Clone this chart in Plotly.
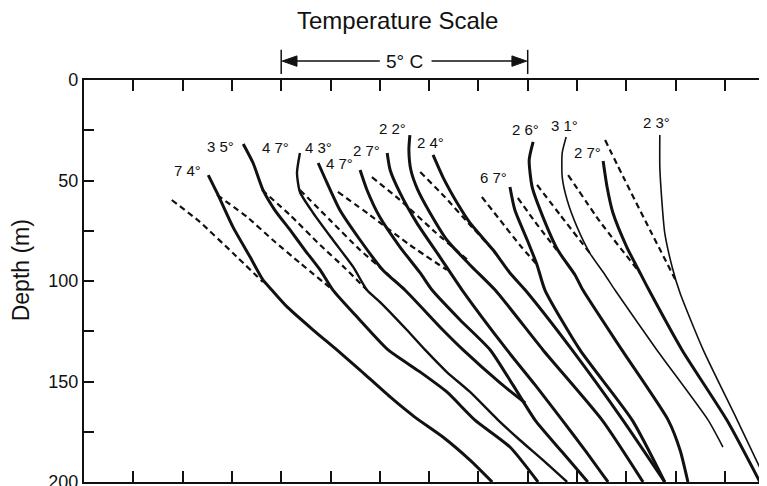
import plotly.graph_objects as go

# ---- data: temperature (offset scale, 1 unit = 1 deg C) vs depth (m) ----
profile_names = ["74", "35", "47a", "43", "47b", "27a", "22", "24", "67", "26", "31", "27b", "23"]

t_74 = [2.52, 2.70, 3.02, 3.37, 3.63, 3.81, 4.12, 4.65, 5.13, 5.60, 6.21, 6.71, 7.28, 7.83, 8.28]
d_74 = [47.3, 56.2, 73.1, 88.1, 99.5, 104.5, 112.9, 124.4, 134.3, 144.3, 157.7, 167.7, 177.6, 189.1, 200]

t_35 = [3.23, 3.43, 3.63, 3.87, 4.18, 4.48, 4.79, 5.05, 5.54, 6.17, 6.82, 7.36, 7.93, 8.64, 9.21]
d_35 = [31.8, 41.3, 54.7, 64.7, 74.6, 84.6, 94.5, 104.5, 117.9, 134.3, 145.3, 155.2, 169.2, 182.6, 200]

t_47a = [4.38, 4.32, 4.38, 4.65, 5.05, 5.46, 5.74, 6.00, 6.55, 6.92, 7.36, 7.83, 8.40, 8.84, 9.35, 9.80]
d_47a = [36.3, 46.3, 55.7, 66.2, 79.6, 93.0, 104.5, 110.4, 124.4, 134.3, 145.3, 155.2, 169.2, 179.1, 190.0, 200]

t_43 = [4.75, 4.93, 5.19, 5.60, 6.06, 6.51, 7.28, 7.69, 8.44, 8.95]
d_43 = [41.3, 51.2, 64.7, 79.6, 94.5, 104.5, 124.4, 134.3, 150.7, 160.7]

t_47b = [5.60, 5.74, 6.00, 6.41, 6.82, 7.06, 7.63, 8.24, 8.70, 9.15, 9.70, 10.22]
d_47b = [44.8, 54.7, 68.2, 83.1, 96.0, 104.5, 119.4, 134.3, 151.7, 169.2, 185.1, 200]

t_27a = [6.15, 6.21, 6.41, 6.75, 7.22, 7.67, 8.58, 9.15, 9.70, 10.16, 10.63]
d_27a = [36.3, 44.8, 56.2, 71.1, 88.1, 104.5, 134.3, 151.7, 169.2, 184.1, 200]

t_22 = [6.61, 6.59, 6.63, 6.77, 7.02, 7.36, 7.83, 8.34, 9.31, 10.51, 11.34]
d_22 = [27.4, 34.8, 44.8, 54.7, 66.2, 79.6, 92.0, 104.5, 134.3, 169.2, 200]

t_24 = [7.08, 7.28, 7.57, 7.83, 8.30, 8.64, 8.95, 9.90, 10.93, 11.78]
d_24 = [37.3, 48.3, 61.2, 71.1, 84.6, 96.0, 104.5, 134.3, 169.2, 200]

t_67 = [8.64, 8.74, 8.99, 9.19, 9.35, 10.06, 11.12, 11.78]
d_67 = [53.2, 64.7, 79.6, 92.0, 104.5, 134.3, 169.2, 200]

t_26 = [9.11, 9.03, 9.09, 9.31, 9.61, 9.96, 10.12, 10.91, 11.85, 12.09, 12.25]
d_26 = [30.8, 39.8, 53.2, 68.2, 84.6, 97.0, 104.5, 134.3, 169.2, 184.1, 200]

t_31 = [9.78, 9.70, 9.70, 9.80, 10.00, 10.26, 10.57, 10.77, 11.62, 12.66, 12.96]
d_31 = [28.4, 36.3, 48.3, 59.7, 73.1, 86.1, 97.0, 104.5, 134.3, 169.2, 182.6]

t_27b = [10.53, 10.61, 10.73, 11.01, 11.28, 11.46, 12.13, 13.04, 13.71]
d_27b = [40.3, 53.2, 66.2, 83.1, 96.0, 104.5, 134.3, 169.2, 200]

t_23 = [11.68, 11.68, 11.72, 11.78, 11.93, 12.09, 12.56, 13.25, 13.77]
d_23 = [27.4, 43.3, 59.7, 76.1, 93.0, 106.0, 134.3, 169.2, 196.0]

# dashed (earlier) profile segments
dash_t = [
    [1.78, 2.35, 3.02, 3.63],
    [2.70, 3.31, 3.83, 4.38, 5.05],
    [3.61, 4.18, 4.79, 5.29, 5.74],
    [4.38, 4.99, 5.60, 6.11, 6.51],
    [5.15, 5.80, 6.61, 7.36],
    [5.84, 6.41, 7.12, 7.83],
    [6.82, 7.32, 7.83, 8.30],
    [8.07, 8.44, 8.84, 9.19],
    [8.80, 9.15, 9.59],
    [9.19, 9.66, 10.26],
    [9.82, 10.47, 11.28],
    [10.57, 10.97, 11.48, 12.03],
]
dash_d = [
    [59.7, 70.6, 86.1, 100.5],
    [57.2, 68.2, 79.6, 91.0, 104.5],
    [54.7, 67.2, 82.1, 93.5, 104.5],
    [54.7, 69.7, 84.6, 95.5, 104.5],
    [55.7, 67.2, 82.1, 94.5],
    [48.3, 59.7, 75.6, 90.5],
    [45.8, 58.2, 72.1, 84.6],
    [58.2, 69.7, 82.1, 92.0],
    [58.7, 70.6, 84.6],
    [52.2, 67.2, 86.1],
    [47.3, 70.6, 96.0],
    [29.9, 49.8, 74.6, 101.0],
]

label_text = ["7 4°", "3 5°", "4 7°", "4 3°", "4 7°", "2 7°", "2 2°", "2 4°", "6 7°", "2 6°", "3 1°", "2 7°", "2 3°"]
label_t = [2.09, 2.76, 3.89, 4.75, 5.19, 5.74, 6.25, 7.02, 8.30, 8.95, 9.74, 10.22, 11.62]
label_d = [44.8, 33.3, 33.8, 33.8, 41.3, 35.3, 23.9, 31.3, 48.3, 24.4, 22.4, 36.3, 20.9]

depth_ticks = [0, 25, 50, 75, 100, 125, 150, 175, 200]
depth_ticktext = ["0", "", "50", "", "100", "", "150", "", "200"]
temp_ticks = list(range(1, 14))
scale_start, scale_end = 4, 9   # 5 deg C bracket

# ---- figure ----
FONT = "Liberation Sans, Arial, Helvetica, sans-serif"
INK = "#111"
fig = go.Figure()

solid_t = [t_74, t_35, t_47a, t_43, t_47b, t_27a, t_22, t_24, t_67, t_26, t_31, t_27b, t_23]
solid_d = [d_74, d_35, d_47a, d_43, d_47b, d_27a, d_22, d_24, d_67, d_26, d_31, d_27b, d_23]
widths = {"47a": 2.4, "31": 1.6, "23": 1.6}

for name, tt, dd in zip(profile_names, solid_t, solid_d):
    fig.add_trace(go.Scatter(x=tt, y=dd, mode="lines",
                             line=dict(color=INK, width=widths.get(name, 3.0),
                                       shape="spline", smoothing=0.6),
                             hoverinfo="skip"))

for tt, dd in zip(dash_t, dash_d):
    fig.add_trace(go.Scatter(x=tt, y=dd, mode="lines",
                             line=dict(color=INK, width=2.2, dash="6px,4px",
                                       shape="spline", smoothing=0.5),
                             hoverinfo="skip"))

# invisible trace for right-hand tick marks
fig.add_trace(go.Scatter(x=[None], y=[None], yaxis="y2", showlegend=False))

annotations = []
for txt, tt, dd in zip(label_text, label_t, label_d):
    annotations.append(dict(x=tt, y=dd, xref="x", yref="y", text=txt, showarrow=False,
                            font=dict(family=FONT, size=15, color=INK)))

annotations += [
    dict(x=6.35, y=1.147, xref="x", yref="paper", xanchor="center", yanchor="middle",
         text="Temperature Scale", showarrow=False,
         font=dict(family=FONT, size=24, color=INK)),
    dict(x=(scale_start + scale_end) / 2, y=1.047, xref="x", yref="paper",
         xanchor="center", yanchor="middle",
         text="5° C", showarrow=False,
         font=dict(family=FONT, size=19, color=INK)),
    dict(x=-0.092, y=0.527, xref="paper", yref="paper", text="Depth (m)",
         textangle=-90, showarrow=False, xanchor="center", yanchor="middle",
         font=dict(family=FONT, size=23, color=INK)),
]

shapes = [
    dict(type="line", xref="x", yref="paper", x0=scale_start, x1=scale_start,
         y0=1.015, y1=1.075, line=dict(color=INK, width=1.5)),
    dict(type="line", xref="x", yref="paper", x0=scale_end, x1=scale_end,
         y0=1.015, y1=1.075, line=dict(color=INK, width=1.5)),
    dict(type="line", xref="x", yref="paper", x0=scale_start + 0.2, x1=6.0,
         y0=1.047, y1=1.047, line=dict(color=INK, width=1.5)),
    dict(type="line", xref="x", yref="paper", x0=7.05, x1=scale_end - 0.2,
         y0=1.047, y1=1.047, line=dict(color=INK, width=1.5)),
    dict(type="path", xref="x", yref="paper",
         path=f"M {scale_start + 0.02} 1.047 L {scale_start + 0.32} 1.060 L {scale_start + 0.32} 1.034 Z",
         fillcolor=INK, line=dict(color=INK, width=1)),
    dict(type="path", xref="x", yref="paper",
         path=f"M {scale_end - 0.02} 1.047 L {scale_end - 0.32} 1.060 L {scale_end - 0.32} 1.034 Z",
         fillcolor=INK, line=dict(color=INK, width=1)),
]

fig.update_layout(
    width=759, height=478,
    margin=dict(l=76, r=0, t=72, b=4, autoexpand=False),
    paper_bgcolor="white", plot_bgcolor="white",
    showlegend=False,
    annotations=annotations, shapes=shapes,
    xaxis=dict(range=[0, 13.854], tickvals=temp_ticks, showticklabels=False,
               ticks="inside", ticklen=11, tickwidth=1.8, tickcolor=INK,
               showline=True, linewidth=2.2, linecolor=INK, mirror="ticks",
               showgrid=False, zeroline=False, fixedrange=True, automargin=False),
    yaxis=dict(range=[200, 0], tickvals=depth_ticks, ticktext=depth_ticktext,
               ticks="inside", ticklen=10, tickwidth=1.8, tickcolor=INK,
               showline=True, linewidth=2.2, linecolor=INK,
               showgrid=False, zeroline=False, ticklabeloverflow="allow",
               automargin=False,
               tickfont=dict(family=FONT, size=18, color=INK)),
    yaxis2=dict(range=[200, 0], overlaying="y", side="right", tickvals=depth_ticks,
                showticklabels=False, ticks="inside", ticklen=6, tickwidth=1.5,
                tickcolor=INK, showline=False, showgrid=False, zeroline=False,
                automargin=False),
)

fig.write_html("out.html")
